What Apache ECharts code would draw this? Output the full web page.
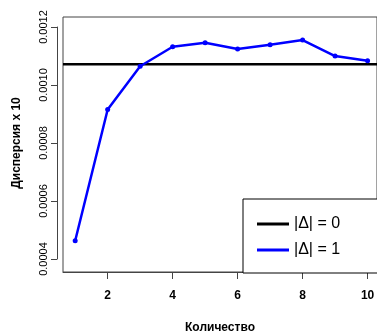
<!DOCTYPE html>
<html>
<head>
<meta charset="utf-8">
<script src="https://cdn.jsdelivr.net/npm/echarts@6/dist/echarts.min.js"></script>
<style>
  html, body { margin: 0; padding: 0; background: #fff; }
  #chart { width: 377px; height: 334px; }
</style>
</head>
<body>
<div id="chart"></div>
<script>
// данные с графика
var counts = [1, 2, 3, 4, 5, 6, 7, 8, 9, 10];
var dispersion = [0.000464, 0.000916, 0.001065, 0.001132, 0.001146, 0.001124, 0.001139, 0.001155, 0.001100, 0.001084];
var baseline = 0.001072;
var xTicks = [2, 4, 6, 8, 10];
var seriesNames = ['|Δ| = 0', '|Δ| = 1'];

// пределы осей (как в R, с запасом)
var xMin = 0.625, xMax = 10.29;
var yMin = 0.0003564, yMax = 0.0012344;

var font = 'Liberation Sans, Arial, sans-serif';
var axisGray = '#444';

var chart = echarts.init(document.getElementById('chart'), null, { renderer: 'canvas' });

var option = {
    backgroundColor: '#fff',
    animation: false,
    grid: [{
        left: 63,
        top: 17,
        right: 0,
        bottom: 62,
        outerBoundsMode: 'none',
        show: true,
        borderColor: axisGray,
        borderWidth: 1,
        backgroundColor: 'transparent'
    }, {
        // отдельная ось Y как в R
        left: 57,
        top: 27,
        width: 1,
        height: 232,
        outerBoundsMode: 'none',
        show: false
    }],
    legend: {
        left: 243,
        top: 199,
        orient: 'vertical',
        data: seriesNames,
        icon: 'rect',
        itemWidth: 32,
        itemHeight: 3,
        itemGap: 8,
        padding: [16, 70, 14, 14],
        borderColor: '#000',
        borderWidth: 1,
        backgroundColor: '#fff',
        textStyle: {
            fontFamily: font,
            fontSize: 16,
            lineHeight: 18,
            color: '#000'
        }
    },
    xAxis: [{
        type: 'value',
        gridIndex: 0,
        min: xMin,
        max: xMax,
        axisLine: { show: true, lineStyle: { color: axisGray, width: 1 } },
        axisTick: {
            show: true,
            customValues: xTicks,
            length: 7,
            lineStyle: { color: axisGray }
        },
        axisLabel: {
            customValues: xTicks,
            fontFamily: font,
            fontSize: 12,
            fontWeight: 'bold',
            color: '#000',
            margin: 18
        },
        splitLine: { show: false },
        name: 'Количество',
        nameLocation: 'middle',
        nameGap: 50,
        nameTextStyle: {
            fontFamily: font,
            fontSize: 12,
            fontWeight: 'bold',
            color: '#000'
        }
    }, {
        type: 'value',
        gridIndex: 1,
        show: false
    }],
    yAxis: [{
        type: 'value',
        gridIndex: 0,
        min: yMin,
        max: yMax,
        axisLine: { show: false },
        axisTick: { show: false },
        axisLabel: { show: false },
        splitLine: { show: false }
    }, {
        type: 'value',
        gridIndex: 1,
        min: 0.0004,
        max: 0.0012,
        interval: 0.0002,
        axisLine: { show: true, lineStyle: { color: axisGray, width: 1 } },
        axisTick: { show: true, length: 6, lineStyle: { color: axisGray } },
        axisLabel: {
            rotate: 90,
            margin: 8,
            fontFamily: font,
            fontSize: 11,
            color: '#000',
            formatter: function (v) { return v.toFixed(4); }
        },
        splitLine: { show: false },
        name: 'Дисперсия х 10',
        nameLocation: 'middle',
        nameRotate: 90,
        nameGap: 34,
        nameTextStyle: {
            fontFamily: font,
            fontSize: 12,
            fontWeight: 'bold',
            color: '#000'
        }
    }],
    series: [{
        // горизонтальная линия |Δ| = 0 через всю область
        name: seriesNames[0],
        type: 'line',
        xAxisIndex: 0,
        yAxisIndex: 0,
        data: [[xMin, baseline], [xMax, baseline]],
        showSymbol: false,
        symbol: 'none',
        itemStyle: { color: '#000' },
        lineStyle: { color: '#000', width: 2.5 },
        z: 2
    }, {
        name: seriesNames[1],
        type: 'line',
        xAxisIndex: 0,
        yAxisIndex: 0,
        data: counts.map(function (c, i) { return [c, dispersion[i]]; }),
        symbol: 'circle',
        symbolSize: 5,
        showSymbol: true,
        itemStyle: { color: '#0000ff' },
        lineStyle: { color: '#0000ff', width: 2.5 },
        z: 3
    }]
};

chart.setOption(option);
</script>
</body>
</html>
